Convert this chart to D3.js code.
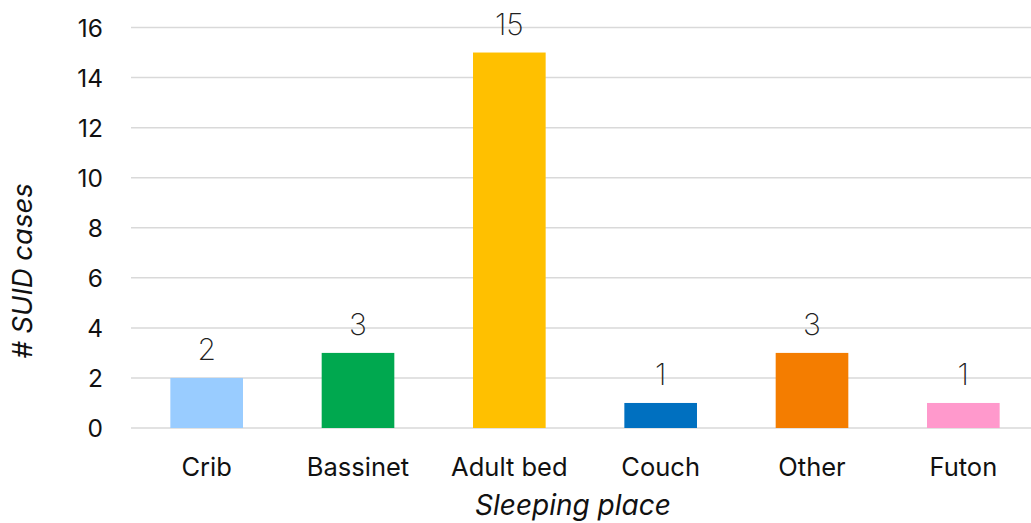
<!DOCTYPE html>
<html><head><meta charset="utf-8">
<script src="https://cdn.jsdelivr.net/npm/d3@7"></script>
<style>body{margin:0;background:#fff;overflow:hidden}</style>
</head><body>
<svg id="c" width="1031" height="523"></svg>
<script>
const categories = ["Crib","Bassinet","Adult bed","Couch","Other","Futon"];
const values = [2,3,15,1,3,1];
const colors = ["#99CCFF","#00A84F","#FFC000","#0070C0","#F47D00","#FF99CC"];
const yTicks = [0,2,4,6,8,10,12,14,16];

const svg = d3.select("#c");
const font = "Inter, 'Noto Sans', sans-serif";
const x = d3.scaleBand().domain(categories).range([131, 1039]).paddingInner(0.52).paddingOuter(0.26);
const y = d3.scaleLinear().domain([0,16]).range([428, 27.5]);

// gridlines
svg.append("g").selectAll("line").data(yTicks).join("line")
  .attr("x1",131).attr("x2",1031)
  .attr("y1",d=>y(d)).attr("y2",d=>y(d))
  .attr("stroke","#d9d9d9").attr("stroke-width",1.5);

// y axis labels
const yAxis = d3.axisLeft(y).tickValues(yTicks).tickSize(0).tickPadding(0);
const gy = svg.append("g").attr("transform","translate(103,0)").call(yAxis);
gy.select(".domain").remove();
gy.selectAll("text").attr("font-family",font).attr("font-size",24.5).attr("fill","#111").attr("dy","0.36em");

// bars
svg.append("g").selectAll("rect").data(values).join("rect")
  .attr("x",(d,i)=>x(categories[i]))
  .attr("width",x.bandwidth())
  .attr("y",d=>y(d))
  .attr("height",d=>y(0)-y(d))
  .attr("fill",(d,i)=>colors[i]);

// value labels
svg.append("g").selectAll("text").data(values).join("text")
  .attr("x",(d,i)=>x(categories[i])+x.bandwidth()/2)
  .attr("y",d=>y(d)-18)
  .attr("text-anchor","middle")
  .attr("font-family",font).attr("font-weight",200).attr("font-size",30).attr("fill","#222")
  .text(d=>d);

// x axis labels
const xAxis = d3.axisBottom(x).tickSize(0).tickPadding(0);
const gx = svg.append("g").attr("transform","translate(0,476)").call(xAxis);
gx.select(".domain").remove();
gx.selectAll("text").attr("font-family",font).attr("font-size",25.5).attr("fill","#111").attr("dy","0");

// axis titles
svg.append("text").attr("x",573).attr("y",515).attr("text-anchor","middle")
  .attr("font-family",font).attr("font-style","italic").attr("font-size",28).attr("fill","#111")
  .text("Sleeping place");
svg.append("text").attr("transform","translate(32,271) rotate(-90)").attr("text-anchor","middle")
  .attr("font-family",font).attr("font-style","italic").attr("font-size",27.5).attr("fill","#111")
  .text("# SUID cases");
</script>
</body></html>
